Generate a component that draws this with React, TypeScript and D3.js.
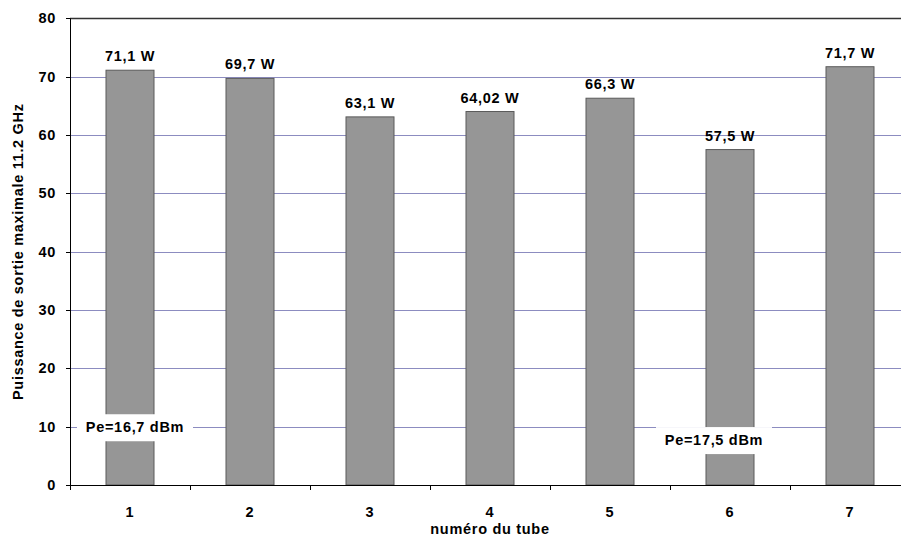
import React from "react";
import * as d3 from "d3";

const categories = ["1", "2", "3", "4", "5", "6", "7"];
const values = [71.1, 69.7, 63.1, 64.02, 66.3, 57.5, 71.7];
const valueLabels = ["71,1 W", "69,7 W", "63,1 W", "64,02 W", "66,3 W", "57,5 W", "71,7 W"];
const yTicks = [0, 10, 20, 30, 40, 50, 60, 70, 80];
const annotations = [
  { cat: "1", value: 9.9, text: "Pe=16,7 dBm" },
  { cat: "6", value: 7.7, text: "Pe=17,5 dBm" },
];

export default function App() {
  const W = 901, H = 538;
  const left = 70, right = 910, top = 18.3, bottom = 485;
  const x = d3.scaleBand<string>().domain(categories).range([left, right]).paddingInner(0.6).paddingOuter(0.3);
  const xb = d3.scaleBand<string>().domain(categories).range([left, right]);
  const y = d3.scaleLinear().domain([0, 80]).range([bottom, top]);
  const font = "'Liberation Sans', Arial, sans-serif";
  const fs = 14.5;
  const ls = 0.7;
  return (
    <svg width={W} height={H} style={{ position: "absolute", left: 0, top: 0, background: "#fff" }} fontFamily={font}>
      <rect x={0} y={0} width={W} height={H} fill="#fff" />
      {yTicks.filter((t) => t > 0 && t < 80).map((t) => (
        <line key={t} x1={left} x2={right} y1={Math.round(y(t)) + 0.5} y2={Math.round(y(t)) + 0.5} stroke="#8c8cc0" strokeWidth={1} />
      ))}
      <line x1={left} x2={right} y1={Math.round(y(80)) + 0.5} y2={Math.round(y(80)) + 0.5} stroke="#333" strokeWidth={1.5} />
      {categories.map((c, i) => (
        <rect key={c} x={x(c)!} y={y(values[i])} width={x.bandwidth()} height={bottom - y(values[i])} fill="#969696" stroke="#5a5a5a" strokeWidth={1} />
      ))}
      {categories.map((c, i) => (
        <text key={c} x={x(c)! + x.bandwidth() / 2} y={y(values[i]) - 9} textAnchor="middle" fontSize={fs} letterSpacing={ls} fontWeight="bold" fill="#000">{valueLabels[i]}</text>
      ))}
      {annotations.map((a) => {
        const cx = xb(a.cat)! + xb.bandwidth() / 2 + (a.cat === "6" ? -16 : 5);
        const cy = y(a.value);
        return (
          <g key={a.text}>
            <rect x={cx - 58} y={cy - 13} width={116} height={27} fill="#fff" />
            <text x={cx} y={cy + 5} textAnchor="middle" fontSize={fs} letterSpacing={ls} fontWeight="bold" fill="#000">{a.text}</text>
          </g>
        );
      })}
      <line x1={left + 0.5} x2={left + 0.5} y1={top} y2={bottom + 5} stroke="#000" strokeWidth={1} />
      <line x1={left} x2={right} y1={bottom + 0.5} y2={bottom + 0.5} stroke="#000" strokeWidth={1} />
      {categories.map((c) => (
        <line key={c} x1={Math.round(xb(c)!) + 0.5} x2={Math.round(xb(c)!) + 0.5} y1={bottom} y2={bottom + 5} stroke="#000" />
      ))}
      {yTicks.map((t) => (
        <g key={t}>
          <line x1={left - 4} x2={left} y1={Math.round(y(t)) + 0.5} y2={Math.round(y(t)) + 0.5} stroke="#000" />
          <text x={left - 14} y={y(t) + 5} textAnchor="end" fontSize={fs} letterSpacing={ls} fontWeight="bold">{t}</text>
        </g>
      ))}
      {categories.map((c) => (
        <text key={c} x={xb(c)! + xb.bandwidth() / 2} y={517} textAnchor="middle" fontSize={fs} letterSpacing={ls} fontWeight="bold">{c}</text>
      ))}
      <text x={(left + right) / 2} y={534} textAnchor="middle" fontSize={fs} letterSpacing={ls} fontWeight="bold">numéro du tube</text>
      <text transform={`translate(23, ${(top + bottom) / 2}) rotate(-90)`} textAnchor="middle" fontSize={fs} letterSpacing={ls} fontWeight="bold">Puissance de sortie maximale 11.2 GHz</text>
    </svg>
  );
}
